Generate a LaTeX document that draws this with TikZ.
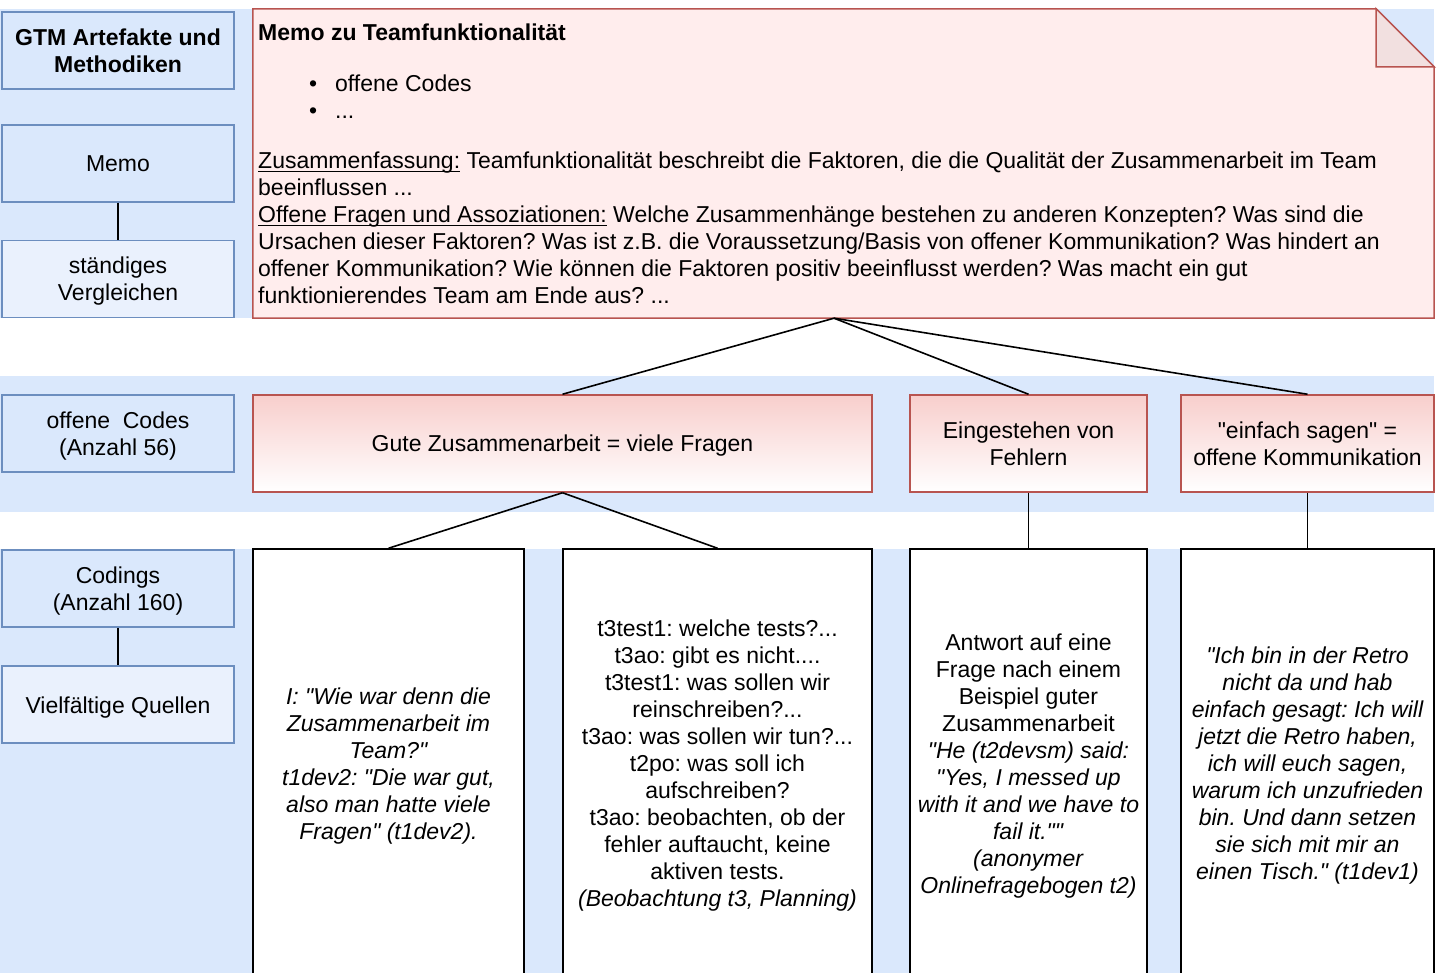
\documentclass[tikz,border=0pt]{standalone}
\usepackage{fontspec}
\setmainfont{Liberation Sans}[Ligatures=TeXOff]
\definecolor{bandblue}{HTML}{DAE8FC}
\definecolor{boxblue}{HTML}{6C8EBF}
\definecolor{lightblue}{HTML}{EAF1FD}
\definecolor{memored}{HTML}{B85450}
\definecolor{memofill}{HTML}{FFEDED}
\definecolor{foldfill}{HTML}{F2E0E0}
\definecolor{pinktop}{HTML}{F8CECC}
% 23pt type on 27pt lines, strut balanced around the cap height
\newcommand\diagfont{\fontsize{23}{27}\selectfont\frenchspacing\setbox\strutbox\hbox{\vrule height22pt depth5pt width0pt}}
\newcommand\memoul[1]{\setbox0\hbox{#1}\rlap{\rule[-3pt]{\wd0}{1.2pt}}\box0\relax}
\newcommand\lines[1]{\begin{tabular}{@{}c@{}}#1\end{tabular}}
\begin{document}
\begin{tikzpicture}[x=1pt,y=-1pt,
  band/.style={fill=bandblue,draw=none},
  leftbox/.style={draw=boxblue,fill=bandblue,line width=1.5pt,minimum width=232pt,minimum height=77pt,inner sep=0pt,font=\diagfont},
  leftlight/.style={leftbox,fill=lightblue},
  codebox/.style={draw=memored,top color=pinktop,bottom color=white,line width=1.5pt,inner sep=0pt,minimum height=97pt,font=\diagfont},
  quotebox/.style={draw=black,fill=white,line width=1.5pt,inner sep=0pt,minimum height=428pt,font=\diagfont},
  link/.style={draw=black,line width=1.6pt}]
\clip (0,0) rectangle (1438,973);

% background bands
\fill[band] (0,9) rectangle (1434,318);
\fill[band] (0,376) rectangle (1434,512);
\fill[band] (0,549) rectangle (1434,973);

% method column
\node[leftbox,font=\diagfont\bfseries] (gtm) at (118,50.5) {\lines{GTM Artefakte und\\Methodiken}};
\node[leftbox] (memolabel) at (118,163.5) {\lines{Memo}};
\node[leftlight] (compare) at (118,279) {\lines{ständiges\\Vergleichen}};
\node[leftbox] (ocodes) at (118,433.5) {\lines{offene~ Codes\\(Anzahl 56)}};
\node[leftbox] (codings) at (118,588.5) {\lines{Codings\\(Anzahl 160)}};
\node[leftlight] (sources) at (118,704.5) {\lines{Vielfältige Quellen}};
\draw[link] (memolabel) -- (compare);
\draw[link] (codings) -- (sources);

% memo note with folded corner
\node[minimum width=1181pt,minimum height=309pt,inner sep=0pt] (memo) at (843.5,163.5) {};
\draw[draw=memored,fill=memofill,line width=1.5pt]
  (memo.north west) -- ([xshift=-58pt]memo.north east) -- ([yshift=-58pt]memo.north east)
  -- (memo.south east) -- (memo.south west) -- cycle;
\draw[draw=memored,fill=foldfill,line width=1.5pt]
  ([xshift=-58pt]memo.north east) -- ([xshift=-58pt,yshift=-58pt]memo.north east)
  -- ([yshift=-58pt]memo.north east) -- cycle;
\node[anchor=base west,inner sep=0pt,font=\diagfont] (memotext) at (258,41) {%
\begin{tabular}[t]{@{}l@{}}
\textbf{Memo zu Teamfunktionalität}\\[24pt]
\hspace*{51pt}\makebox[26pt][l]{•}offene Codes\\
\hspace*{51pt}\makebox[26pt][l]{•}...\\[23pt]
\memoul{Zusammenfassung:} Teamfunktionalität beschreibt die Faktoren, die die Qualität der Zusammenarbeit im Team\\
beeinflussen ...\\
\memoul{Offene Fragen und Assoziationen:} Welche Zusammenhänge bestehen zu anderen Konzepten? Was sind die\\
Ursachen dieser Faktoren? Was ist z.B. die Voraussetzung/Basis von offener Kommunikation? Was hindert an\\
offener Kommunikation? Wie können die Faktoren positiv beeinflusst werden? Was macht ein gut\\
funktionierendes Team am Ende aus? ...
\end{tabular}};
\coordinate (apex) at ([xshift=-9.5pt]memo.south);

% open codes
\node[codebox,minimum width=619pt] (gute) at (562.5,443.5) {\lines{Gute Zusammenarbeit = viele Fragen}};
\node[codebox,minimum width=237pt] (fehler) at (1028.5,443.5) {\lines{Eingestehen von\\Fehlern}};
\node[codebox,minimum width=253pt] (sagen) at (1307.5,443.5) {\lines{"einfach sagen" =\\offene Kommunikation}};

% codings
\node[quotebox,minimum width=271pt,font=\diagfont\itshape] (q1) at (388.5,763) {\lines{%
I: "Wie war denn die\\Zusammenarbeit im\\Team?"\\t1dev2: "Die war gut,\\also man hatte viele\\Fragen" (t1dev2).}};
\node[quotebox,minimum width=309pt] (q2) at (717.5,763) {\lines{%
t3test1: welche tests?...\\t3ao: gibt es nicht....\\t3test1: was sollen wir\\reinschreiben?...\\%
t3ao: was sollen wir tun?...\\t2po: was soll ich\\aufschreiben?\\t3ao: beobachten, ob der\\%
fehler auftaucht, keine\\aktiven tests.\\\textit{(Beobachtung t3, Planning)}}};
\node[quotebox,minimum width=237pt] (q3) at (1028.5,763) {\lines{%
Antwort auf eine\\Frage nach einem\\Beispiel guter\\Zusammenarbeit\\%
\textit{"He (t2devsm) said:}\\\textit{"Yes, I messed up}\\\textit{with it and we have to}\\%
\textit{fail it.""}\\\textit{(anonymer}\\\textit{Onlinefragebogen t2)}}};
\node[quotebox,minimum width=253pt,font=\diagfont\itshape] (q4) at (1307.5,763) {\lines{%
"Ich bin in der Retro\\nicht da und hab\\einfach gesagt: Ich will\\jetzt die Retro haben,\\%
ich will euch sagen,\\warum ich unzufrieden\\bin. Und dann setzen\\sie sich mit mir an\\%
einen Tisch." (t1dev1)}};

% connectors
\draw[link] (apex) -- (gute.north);
\draw[link] (apex) -- (fehler.north);
\draw[link] (apex) -- (sagen.north);
\draw[link] (gute.south) -- (q1.north);
\draw[link] (gute.south) -- (q2.north);
\draw[link] (fehler.south) -- (q3.north);
\draw[link] (sagen.south) -- (q4.north);
\end{tikzpicture}
\end{document}
